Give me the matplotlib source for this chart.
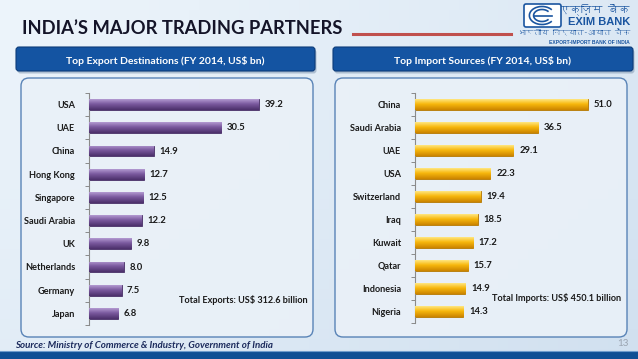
import numpy as np
import matplotlib
matplotlib.use("Agg")
import matplotlib.pyplot as plt
from matplotlib.patches import FancyBboxPatch, Rectangle, Arc
from matplotlib import font_manager
from matplotlib.ft2font import FT2Font

plt.rcParams['font.family'] = ['Lato', 'DejaVu Sans']

# data
export_countries = ["USA", "UAE", "China", "Hong Kong", "Singapore",
                    "Saudi Arabia", "UK", "Netherlands", "Germany", "Japan"]
export_values = [39.2, 30.5, 14.9, 12.7, 12.5, 12.2, 9.8, 8.0, 7.5, 6.8]

import_countries = ["China", "Saudi Arabia", "UAE", "USA", "Switzerland",
                    "Iraq", "Kuwait", "Qatar", "Indonesia", "Nigeria"]
import_values = [51.0, 36.5, 29.1, 22.3, 19.4, 18.5, 17.2, 15.7, 14.9, 14.3]

title = "INDIA\u2019S MAJOR TRADING PARTNERS"
export_title = "Top Export Destinations (FY 2014, US$ bn)"
import_title = "Top Import Sources (FY 2014, US$ bn)"
export_total = "Total Exports: US$ 312.6 billion"
import_total = "Total Imports: US$ 450.1 billion"
source = "Source: Ministry of Commerce & Industry, Government of India"

W, H = 638, 359
dpi = 100
fig = plt.figure(figsize=(W / dpi, H / dpi), dpi=dpi)

# background layer in pixel coordinates
bg = fig.add_axes([0, 0, 1, 1], zorder=0)
bg.set_xlim(0, W)
bg.set_ylim(H, 0)
bg.axis('off')

gx = np.linspace(0, 1, 64)
gy = np.linspace(0, 1, 36)
GX, GY = np.meshgrid(gx, gy)
c1 = np.array([0.93, 0.96, 0.985])
c2 = np.array([0.82, 0.88, 0.94])
t = np.clip(0.6 * GX + 0.4 * GY, 0, 1)[..., None]
bg.imshow(c1 * (1 - t) + c2 * t, extent=[0, W, H, 0], aspect='auto', zorder=0)

# title and red rule
bg.text(22, 29, title, fontsize=13.2, fontweight='bold', color='#141428',
        va='center', ha='left', zorder=3)
bg.plot([353, 511], [34, 34], color='#c0504d', lw=2.2, zorder=3)

# logo
bg.add_patch(FancyBboxPatch((524, 4), 37, 23, boxstyle="round,pad=0,rounding_size=2",
                            fc='white', ec='#1a55a0', lw=1.2, zorder=3))
for r in (9, 6):
    bg.add_patch(Arc((542, 15.5), 2 * r * 1.4, 2 * r, theta1=30, theta2=330,
                     color='#1a55a0', lw=1.2, zorder=4))
bg.plot([534, 552], [15.5, 15.5], color='#1a55a0', lw=1.2, zorder=4)

deva_font = None
for f in font_manager.fontManager.ttflist:
    try:
        if FT2Font(f.fname).get_char_index(ord('\u0915')) != 0:
            deva_font = f.name
            break
    except Exception:
        pass
if deva_font:
    bg.text(630, 9, "\u090f\u0915\u094d\u091c\u093c\u093f\u092e \u092c\u0948\u0902\u0915",
            family=deva_font, fontsize=7.8, color='#1a55a0', ha='right', va='center', zorder=4)
    bg.text(630, 33, "\u092d\u093e\u0930\u0924\u0940\u092f \u0928\u093f\u0930\u094d\u092f\u093e\u0924-\u0906\u092f\u093e\u0924 \u092c\u0948\u0902\u0915",
            family=deva_font, fontsize=5.6, color='#1a55a0', ha='right', va='center', zorder=4)
bg.text(630, 22, "EXIM BANK", family='Liberation Sans', fontsize=8, fontweight='bold',
        color='#1a55a0', ha='right', va='center', zorder=4)
bg.text(630, 42, "EXPORT-IMPORT BANK OF INDIA", family='Liberation Sans', fontsize=3.6,
        fontweight='bold', color='#1a55a0', ha='right', va='center', zorder=4)

# panel headers and frames
for x0, x1, txt in [(16, 315, export_title), (333, 633, import_title)]:
    bg.add_patch(FancyBboxPatch((x0 + 1.5, 49.5), x1 - x0, 24,
                                boxstyle="round,pad=0,rounding_size=3",
                                fc='#8aa0b8', ec='none', alpha=0.6, zorder=2))
    bg.add_patch(FancyBboxPatch((x0, 47), x1 - x0, 24,
                                boxstyle="round,pad=0,rounding_size=3",
                                fc='#1454a2', ec='#0c3c7a', lw=0.8, zorder=3))
    bg.text((x0 + x1) / 2, 61.5, txt, fontsize=7.5, fontweight='bold',
            color='white', ha='center', va='center', zorder=4)

for x0, x1 in [(21, 313), (335, 627)]:
    bg.add_patch(FancyBboxPatch((x0, 78), x1 - x0, 259,
                                boxstyle="round,pad=0,rounding_size=8",
                                fc='#eaf1f8', ec='#4a78b0', lw=1.0, alpha=0.9, zorder=2))

# bottom band, source, page number
bg.add_patch(Rectangle((0, 351), W, 8, fc='#0f4f94', ec='none', zorder=3))
bg.plot([0, W], [350.5, 350.5], color='#6f9ccc', lw=0.8, zorder=3)
bg.text(15, 346, source, fontsize=7, fontweight='bold', fontstyle='italic',
        color='#1b2a5c', ha='left', va='center', zorder=4)
bg.text(629, 343, "13", fontsize=7, color='#9aa4b0', ha='right', va='center', zorder=4)


def gradient(top, mid, bot):
    s = np.linspace(0, 1, 32)[:, None]
    top, mid, bot = np.array(top), np.array(mid), np.array(bot)
    up = np.clip(1 - s / 0.45, 0, 1)
    down = np.clip((s - 0.45) / 0.55, 0, 1)
    col = mid * (1 - up - down) + top * up + bot * down
    return col[:, None, :]


def draw_panel(rect, names, vals, xmax, grad, edge, total, total_xy):
    ax = fig.add_axes(rect, zorder=5)
    ax.patch.set_alpha(0)
    y = np.arange(len(names))
    bars = ax.barh(y, vals, height=0.46, color=edge, edgecolor=edge, lw=0.6, zorder=2)
    img = gradient(*grad)
    for b in bars:
        x0, y0 = b.get_x(), b.get_y()
        w, h = b.get_width(), b.get_height()
        im = ax.imshow(img, extent=[x0, x0 + w, y0 + h, y0], aspect='auto', zorder=3)
        im.set_clip_path(b)
    for yi, v in zip(y, vals):
        ax.text(v + xmax * 0.028, yi, f"{v:.1f}", fontsize=6.8, fontweight='bold',
                color='#1a1a1a', ha='left', va='center', zorder=4)
    ax.set_xlim(0, xmax)
    ax.set_ylim(len(names) - 0.5, -0.5)
    ax.set_yticks(y)
    ax.set_yticklabels(names, fontsize=6.6, fontweight='bold', color='#1a1a1a')
    ax.set_yticks(np.arange(len(names) + 1) - 0.5, minor=True)
    ax.tick_params(axis='y', which='major', length=0, pad=10)
    ax.tick_params(axis='y', which='minor', length=3, color='#8a8a8a', width=0.7)
    ax.set_xticks([])
    for s in ['top', 'right', 'bottom']:
        ax.spines[s].set_visible(False)
    ax.spines['left'].set_color('#8a8a8a')
    ax.spines['left'].set_linewidth(0.8)
    bg.text(total_xy[0], total_xy[1], total, fontsize=6.6, fontweight='bold',
            color='#1a1a1a', ha='left', va='center', zorder=4)
    return ax


draw_panel([89 / W, 34 / H, 195 / W, 232 / H], export_countries, export_values, 45,
           ((0.70, 0.60, 0.82), (0.48, 0.35, 0.62), (0.30, 0.19, 0.42)), '#4b3169',
           export_total, (179, 300))
draw_panel([415 / W, 36 / H, 203 / W, 230 / H], import_countries, import_values, 60,
           ((1.0, 0.90, 0.50), (0.97, 0.72, 0.05), (0.80, 0.52, 0.0)), '#b87a00',
           import_total, (492, 298))

fig.savefig("out.png", dpi=dpi)
